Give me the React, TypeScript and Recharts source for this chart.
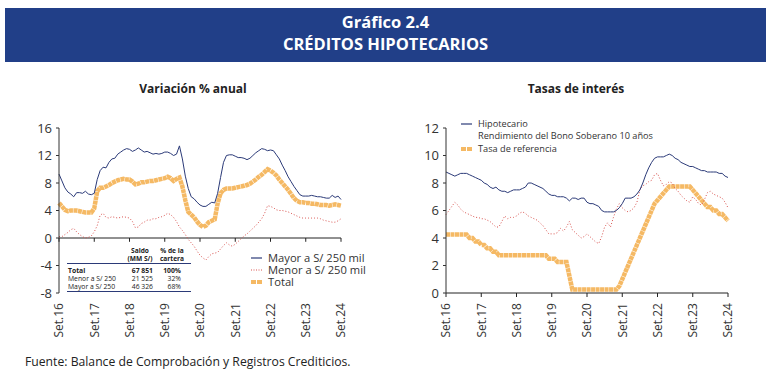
import React from 'react';
import { LineChart, Line, XAxis, YAxis, ReferenceLine, Legend } from 'recharts';

const yearTicks = ['Set.16', 'Set.17', 'Set.18', 'Set.19', 'Set.20', 'Set.21', 'Set.22', 'Set.23', 'Set.24'];

// Variación % anual (monthly, Set.16 - Set.24)
const mayor = [9.3, 8.3, 7.3, 6.7, 6.4, 6.0, 6.6, 6.6, 6.5, 6.8, 6.4, 6.3, 6.5, 8.5, 9.8, 10.3, 10.2, 11.0, 11.5, 11.6, 12.2, 12.5, 12.8, 13.0, 12.9, 12.6, 12.8, 13.1, 12.8, 12.5, 12.6, 12.4, 12.2, 12.3, 12.2, 12.3, 12.5, 12.5, 12.3, 12.0, 12.2, 13.4, 11.5, 9.0, 7.2, 6.0, 5.7, 5.2, 4.8, 4.6, 4.6, 4.9, 5.2, 5.1, 6.5, 8.8, 11.0, 12.0, 12.1, 12.1, 11.9, 11.7, 11.7, 11.6, 11.4, 11.6, 12.0, 12.4, 12.7, 13.0, 12.9, 12.7, 12.8, 12.7, 12.1, 11.5, 10.6, 9.8, 8.9, 8.2, 7.5, 6.9, 6.3, 6.1, 6.1, 6.1, 6.2, 6.1, 6.0, 6.0, 5.9, 5.8, 5.8, 6.2, 5.9, 6.1, 5.6];
const menor = [0.2, 0.2, 0.5, 0.8, 1.2, 1.4, 0.9, 0.5, 0.2, 0.0, 0.1, 0.3, 0.9, 1.8, 3.3, 3.6, 3.0, 2.9, 3.1, 3.0, 2.9, 3.0, 3.1, 3.0, 2.9, 2.4, 1.5, 1.6, 2.1, 2.3, 2.6, 2.6, 2.8, 2.8, 3.0, 3.1, 3.3, 3.6, 3.4, 3.0, 2.4, 1.6, 1.1, 0.5, -0.2, -0.7, -1.2, -1.9, -2.5, -2.9, -3.2, -2.7, -2.3, -2.2, -2.1, -1.6, -1.1, -0.7, -1.0, -1.2, -0.9, -0.5, -0.1, 0.3, 0.6, 1.0, 1.4, 1.8, 2.3, 2.8, 3.6, 4.7, 4.6, 4.4, 4.1, 4.0, 4.0, 3.9, 3.8, 3.6, 3.4, 3.2, 3.0, 2.9, 2.9, 2.9, 2.9, 2.9, 2.9, 2.8, 2.6, 2.5, 2.4, 2.3, 2.3, 2.5, 2.8];
const total = [5.1, 4.6, 4.1, 3.9, 4.0, 4.0, 4.0, 3.9, 3.8, 3.7, 3.7, 3.7, 4.3, 6.8, 7.3, 7.3, 7.5, 7.7, 8.0, 8.2, 8.4, 8.5, 8.6, 8.5, 8.5, 8.2, 7.8, 7.9, 8.1, 8.1, 8.2, 8.3, 8.3, 8.4, 8.5, 8.6, 8.7, 8.9, 8.7, 8.3, 8.6, 8.8, 7.5, 5.5, 3.8, 3.4, 3.0, 2.4, 1.9, 1.6, 1.8, 2.3, 2.5, 2.7, 5.0, 6.5, 7.0, 7.2, 7.2, 7.2, 7.3, 7.4, 7.5, 7.6, 7.7, 7.9, 8.2, 8.5, 8.9, 9.2, 9.6, 10.0, 9.8, 9.5, 9.1, 8.5, 8.0, 7.5, 7.0, 6.4, 5.8, 5.4, 5.2, 5.2, 5.1, 5.1, 5.0, 5.0, 4.9, 4.8, 4.8, 4.8, 4.7, 4.8, 4.9, 4.8, 4.7];

// Tasas de interés
const hipotecario = [8.8, 8.7, 8.6, 8.5, 8.6, 8.7, 8.7, 8.7, 8.6, 8.5, 8.4, 8.3, 8.2, 8.0, 7.9, 7.7, 7.6, 7.7, 7.5, 7.4, 7.4, 7.3, 7.4, 7.5, 7.5, 7.5, 7.6, 7.7, 8.0, 8.0, 7.9, 7.8, 7.7, 7.6, 7.4, 7.2, 7.1, 7.1, 7.0, 7.0, 7.0, 6.9, 6.7, 6.9, 6.9, 6.8, 6.9, 6.9, 6.6, 6.5, 6.5, 6.4, 6.3, 6.0, 5.9, 5.9, 5.9, 5.9, 6.0, 6.2, 6.5, 6.9, 6.9, 6.9, 7.0, 7.2, 7.5, 8.0, 8.6, 9.1, 9.5, 9.8, 9.9, 9.9, 9.9, 10.0, 10.1, 10.0, 9.8, 9.7, 9.5, 9.4, 9.3, 9.2, 9.2, 9.1, 9.0, 8.9, 8.9, 8.8, 8.8, 8.8, 8.8, 8.7, 8.7, 8.5, 8.4];
const bono = [5.7, 6.0, 6.3, 6.6, 6.4, 6.1, 5.9, 5.8, 5.7, 5.6, 5.5, 5.5, 5.4, 5.4, 5.3, 5.2, 5.0, 4.8, 4.8, 5.2, 5.6, 5.4, 5.5, 5.5, 5.6, 5.8, 5.9, 5.8, 5.6, 5.5, 5.4, 5.3, 5.1, 4.9, 4.6, 4.3, 4.3, 4.3, 4.4, 4.7, 4.5, 4.8, 5.2, 4.6, 4.4, 4.2, 4.0, 4.1, 4.3, 4.1, 3.9, 3.7, 3.6, 4.1, 4.8, 5.1, 4.8, 5.5, 6.1, 6.5, 6.2, 6.0, 5.9, 6.0, 6.2, 6.6, 7.5, 7.8, 7.9, 8.1, 8.2, 8.6, 8.7, 8.2, 7.8, 7.9, 8.1, 8.0, 7.6, 7.4, 7.1, 6.9, 6.7, 6.6, 7.0, 6.8, 6.5, 6.4, 6.8, 7.3, 7.4, 7.2, 7.1, 7.0, 6.9, 6.6, 6.2];
const tasa = [4.25, 4.25, 4.25, 4.25, 4.25, 4.25, 4.25, 4.25, 4.0, 4.0, 3.75, 3.75, 3.5, 3.5, 3.25, 3.25, 3.0, 3.0, 2.75, 2.75, 2.75, 2.75, 2.75, 2.75, 2.75, 2.75, 2.75, 2.75, 2.75, 2.75, 2.75, 2.75, 2.75, 2.75, 2.75, 2.5, 2.5, 2.5, 2.25, 2.25, 2.25, 2.25, 1.25, 0.25, 0.25, 0.25, 0.25, 0.25, 0.25, 0.25, 0.25, 0.25, 0.25, 0.25, 0.25, 0.25, 0.25, 0.25, 0.25, 0.5, 1.0, 1.5, 2.0, 2.5, 3.0, 3.5, 4.0, 4.5, 5.0, 5.5, 6.0, 6.5, 6.75, 7.0, 7.25, 7.5, 7.75, 7.75, 7.75, 7.75, 7.75, 7.75, 7.75, 7.75, 7.5, 7.25, 7.0, 6.75, 6.5, 6.25, 6.25, 6.0, 6.0, 5.75, 5.75, 5.5, 5.25];

const leftTicksY = [-8, -4, 0, 4, 8, 12, 16];
const rightTicksY = [0, 2, 4, 6, 8, 10, 12];

const tableHead = [['Saldo', '(MM S/)'], ['% de la', 'cartera']];
const tableRows = [
  { name: 'Total', saldo: '67 851', pct: '100%', bold: true },
  { name: 'Menor a S/ 250', saldo: '21 525', pct: '32%', bold: false },
  { name: 'Mayor a S/ 250', saldo: '46 326', pct: '68%', bold: false },
];

const FONT = '"Open Sans", "DejaVu Sans", sans-serif';
const BLUE = '#2b3a78';
const RED = '#d9534f';
const ORANGE = '#f5b964';

const xTicks = yearTicks.map((_, i) => i * 12);
const leftData = mayor.map((v, i) => ({ m: i, mayor: v, menor: menor[i], total: total[i] }));
const rightData = hipotecario.map((v, i) => ({ m: i, hip: v, bono: bono[i], tasa: tasa[i] }));

const RotTick = (props: any) => {
  const { x, y, payload } = props;
  const label = yearTicks[Math.round(payload.value / 12)];
  return (
    <g transform={`translate(${x},${y})`}>
      <text transform="rotate(-90)" textAnchor="end" dy="0.36em" fontSize={12} fill="#333" fontFamily={FONT}>
        {label}
      </text>
    </g>
  );
};

const LegendSymbol = ({ kind }: { kind: string }) => {
  if (kind === 'solid') return <line x1={0} y1={5} x2={11} y2={5} stroke={BLUE} strokeWidth={1.2} />;
  if (kind === 'dotted') return <line x1={0} y1={5} x2={11} y2={5} stroke={RED} strokeWidth={1} strokeDasharray="1 1.5" />;
  if (kind === 'thick') return <line x1={0} y1={5} x2={11} y2={5} stroke={ORANGE} strokeWidth={4} strokeDasharray="5 1" />;
  return null;
};

const makeLegend = (items: { label: string; kind: string }[], rowH: number, fontSize: number) => () => (
  <div style={{ fontFamily: FONT, fontSize, color: '#333', lineHeight: `${rowH}px` }}>
    {items.map((it) => (
      <div key={it.label} style={{ display: 'flex', alignItems: 'center', height: rowH, whiteSpace: 'nowrap' }}>
        <svg width={16} height={10} style={{ marginRight: 1 }}>
          <LegendSymbol kind={it.kind} />
        </svg>
        <span>{it.label}</span>
      </div>
    ))}
  </div>
);

const leftLegend = makeLegend(
  [
    { label: 'Mayor a S/ 250 mil', kind: 'solid' },
    { label: 'Menor a S/ 250 mil', kind: 'dotted' },
    { label: 'Total', kind: 'thick' },
  ],
  12,
  11.2
);

const rightLegend = makeLegend(
  [
    { label: 'Hipotecario', kind: 'solid' },
    { label: 'Rendimiento del Bono Soberano 10 años', kind: 'none' },
    { label: 'Tasa de referencia', kind: 'thick' },
  ],
  12.3,
  9.2
);

const Table = () => (
  <svg width={200} height={60} style={{ position: 'absolute', left: 60, top: 242 }} fontFamily={FONT}>
    {tableHead.map((h, ci) => (
      <g key={ci}>
        <text x={ci === 0 ? 80 : 112} y={10.5} fontSize={6.6} fontWeight={700} textAnchor="middle" fill="#222">{h[0]}</text>
        <text x={ci === 0 ? 80 : 112} y={18.5} fontSize={6.6} fontWeight={700} textAnchor="middle" fill="#222">{h[1]}</text>
      </g>
    ))}
    <line x1={7} y1={21.5} x2={131} y2={21.5} stroke={BLUE} strokeWidth={1} />
    {tableRows.map((r, i) => (
      <g key={r.name} fontSize={6.8} fontWeight={r.bold ? 700 : 400} fill="#222">
        <text x={8} y={30.5 + i * 8}>{r.name}</text>
        <text x={93} y={30.5 + i * 8} textAnchor="end">{r.saldo}</text>
        <text x={121} y={30.5 + i * 8} textAnchor="end">{r.pct}</text>
      </g>
    ))}
    <line x1={7} y1={49.5} x2={131} y2={49.5} stroke={BLUE} strokeWidth={1} />
  </svg>
);

export default function App() {
  return (
    <div style={{ position: 'absolute', left: 0, top: 0, width: 772, height: 383, background: '#fff', fontFamily: FONT, overflow: 'hidden' }}>
      <div style={{ position: 'absolute', left: 5, top: 8, width: 761, height: 54, background: '#213f88', color: '#fff', textAlign: 'center', fontWeight: 700, fontSize: 16.5, lineHeight: '22px', paddingTop: 3, boxSizing: 'border-box' }}>
        <div>Gráfico 2.4</div>
        <div>CRÉDITOS HIPOTECARIOS</div>
      </div>
      <div style={{ position: 'absolute', left: 0, width: 386, top: 80, textAlign: 'center', fontWeight: 700, fontSize: 12, color: '#222' }}>Variación % anual</div>
      <div style={{ position: 'absolute', left: 386, width: 380, top: 80, textAlign: 'center', fontWeight: 700, fontSize: 12, color: '#222' }}>Tasas de interés</div>

      <div style={{ position: 'absolute', left: 0, top: 0 }}>
        <LineChart width={380} height={383} data={leftData} margin={{ top: 128, right: 39, left: 19, bottom: 30 }}>
          <XAxis dataKey="m" type="number" domain={[0, 96]} ticks={xTicks} axisLine={false} tickLine={{ stroke: 'none' }} tickSize={4} tickMargin={6} height={60} tick={<RotTick />} interval={0} />
          <YAxis type="number" domain={[-8, 16]} ticks={leftTicksY} width={40} axisLine={{ stroke: '#333' }} tickLine={{ stroke: '#333' }} tickSize={3} tickMargin={4} tick={{ fontSize: 13, fill: '#333', fontFamily: FONT }} interval={0} />
          <ReferenceLine y={0} stroke="#222" strokeWidth={1} />
          {xTicks.map((t) => (
            <ReferenceLine key={t} segment={[{ x: t, y: 0 }, { x: t, y: -0.55 }]} stroke="#222" strokeWidth={1} />
          ))}
          <Line dataKey="total" stroke={ORANGE} strokeWidth={4.5} dot={false} isAnimationActive={false} strokeDasharray="4 0.5" />
          <Line dataKey="menor" stroke={RED} strokeWidth={1} strokeDasharray="1 2" dot={false} isAnimationActive={false} />
          <Line dataKey="mayor" stroke={BLUE} strokeWidth={1} dot={false} isAnimationActive={false} />
          <Legend layout="vertical" align="center" verticalAlign="middle" content={leftLegend} wrapperStyle={{ position: 'absolute', left: 251, top: 252, width: 120 }} />
        </LineChart>
        <Table />
      </div>

      <div style={{ position: 'absolute', left: 386, top: 0 }}>
        <LineChart width={386} height={383} data={rightData} margin={{ top: 128, right: 44, left: 20, bottom: 30 }}>
          <XAxis dataKey="m" type="number" domain={[0, 96]} ticks={xTicks} axisLine={{ stroke: '#222' }} tickLine={{ stroke: '#222' }} tickSize={4} tickMargin={6} height={60} tick={<RotTick />} interval={0} />
          <YAxis type="number" domain={[0, 12]} ticks={rightTicksY} width={40} axisLine={{ stroke: '#333' }} tickLine={{ stroke: '#333' }} tickSize={3} tickMargin={4} tick={{ fontSize: 13, fill: '#333', fontFamily: FONT }} interval={0} />
          <Line dataKey="tasa" stroke={ORANGE} strokeWidth={4.5} dot={false} isAnimationActive={false} strokeDasharray="4 0.5" />
          <Line dataKey="bono" stroke={RED} strokeWidth={1} strokeDasharray="1 2" dot={false} isAnimationActive={false} />
          <Line dataKey="hip" stroke={BLUE} strokeWidth={1} dot={false} isAnimationActive={false} />
          <Legend layout="vertical" align="center" verticalAlign="middle" content={rightLegend} wrapperStyle={{ position: 'absolute', left: 75, top: 118, width: 260 }} />
        </LineChart>
      </div>

      <div style={{ position: 'absolute', left: 25, top: 353, fontSize: 12.2, color: '#222' }}>Fuente: Balance de Comprobación y Registros Crediticios.</div>
    </div>
  );
}
